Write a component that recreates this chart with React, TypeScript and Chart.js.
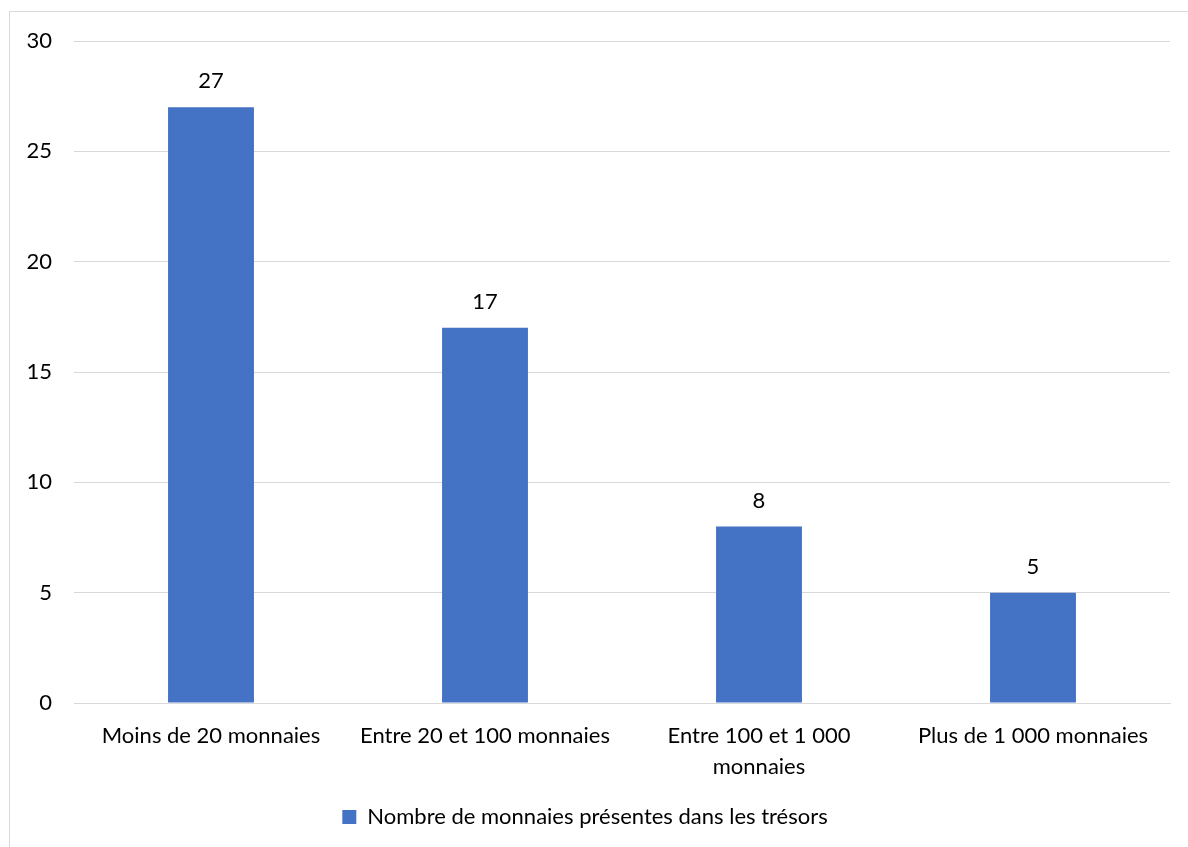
import React, { useEffect, useRef } from "react";
import { Chart, registerables } from "chart.js";

Chart.register(...registerables);

const categories = [
  "Moins de 20 monnaies",
  "Entre 20 et 100 monnaies",
  "Entre 100 et 1 000 monnaies",
  "Plus de 1 000 monnaies",
];
const tickLabels: (string | string[])[] = [
  "Moins de 20 monnaies",
  "Entre 20 et 100 monnaies",
  ["Entre 100 et 1 000", "monnaies"],
  "Plus de 1 000 monnaies",
];
const seriesName = "Nombre de monnaies présentes dans les trésors";
const values = [27, 17, 8, 5];

const FONT = "Lato, 'Open Sans', sans-serif";
const FS = 22;

const dataLabelPlugin = {
  id: "dataLabels",
  afterDatasetsDraw(chart: any) {
    const ctx = chart.ctx;
    const meta = chart.getDatasetMeta(0);
    ctx.save();
    ctx.font = `${FS}px ${FONT}`;
    ctx.fillStyle = "#000000";
    ctx.textAlign = "center";
    ctx.textBaseline = "middle";
    meta.data.forEach((bar: any, i: number) => {
      ctx.fillText(String(values[i]), bar.x, bar.y - 26);
    });
    ctx.restore();
  },
};

export default function App() {
  const canvasRef = useRef<HTMLCanvasElement | null>(null);

  useEffect(() => {
    if (!canvasRef.current) return;
    const chart = new Chart(canvasRef.current, {
      type: "bar",
      data: {
        labels: categories,
        datasets: [
          {
            label: seriesName,
            data: values,
            backgroundColor: "#4472C4",
            borderWidth: 0,
            barPercentage: 0.3135,
            categoryPercentage: 1,
          },
        ],
      },
      options: {
        animation: false,
        responsive: false,
        maintainAspectRatio: false,
        layout: { padding: { top: 41, right: 18, bottom: 9, left: 0 } },
        plugins: {
          tooltip: { enabled: false },
          legend: {
            position: "bottom",
            labels: {
              boxWidth: 14,
              boxHeight: 14,
              color: "#000000",
              font: { family: FONT, size: FS },
              padding: 10,
            },
          },
        },
        scales: {
          x: {
            grid: { display: false, drawTicks: false },
            border: { display: true, color: "#d9d9d9", width: 1 },
            ticks: {
              color: "#000000",
              font: { family: FONT, size: FS, lineHeight: 1.38 },
              padding: 18,
              maxRotation: 0,
              autoSkip: false,
              callback: (_v: any, i: number) => tickLabels[i],
            },
            afterFit: (scale: any) => {
              scale.height = 93;
            },
          },
          y: {
            min: 0,
            max: 30,
            grid: { color: "#d9d9d9", lineWidth: 1, drawTicks: false },
            border: { display: false },
            ticks: {
              stepSize: 5,
              color: "#000000",
              font: { family: FONT, size: FS },
              padding: 22,
            },
            afterFit: (scale: any) => {
              scale.width = 74;
            },
          },
        },
      },
      plugins: [dataLabelPlugin],
    });
    return () => chart.destroy();
  }, []);

  return (
    <div
      style={{
        position: "fixed",
        left: 0,
        top: 0,
        width: 1188,
        height: 847,
        background: "#ffffff",
        overflow: "hidden",
      }}
    >
      <div
        style={{
          position: "absolute",
          left: 9,
          top: 11,
          width: 1200,
          height: 860,
          border: "1px solid #d9d9d9",
        }}
      />
      <canvas
        ref={canvasRef}
        width={1188}
        height={847}
        style={{ position: "absolute", left: 0, top: 0 }}
      />
    </div>
  );
}
